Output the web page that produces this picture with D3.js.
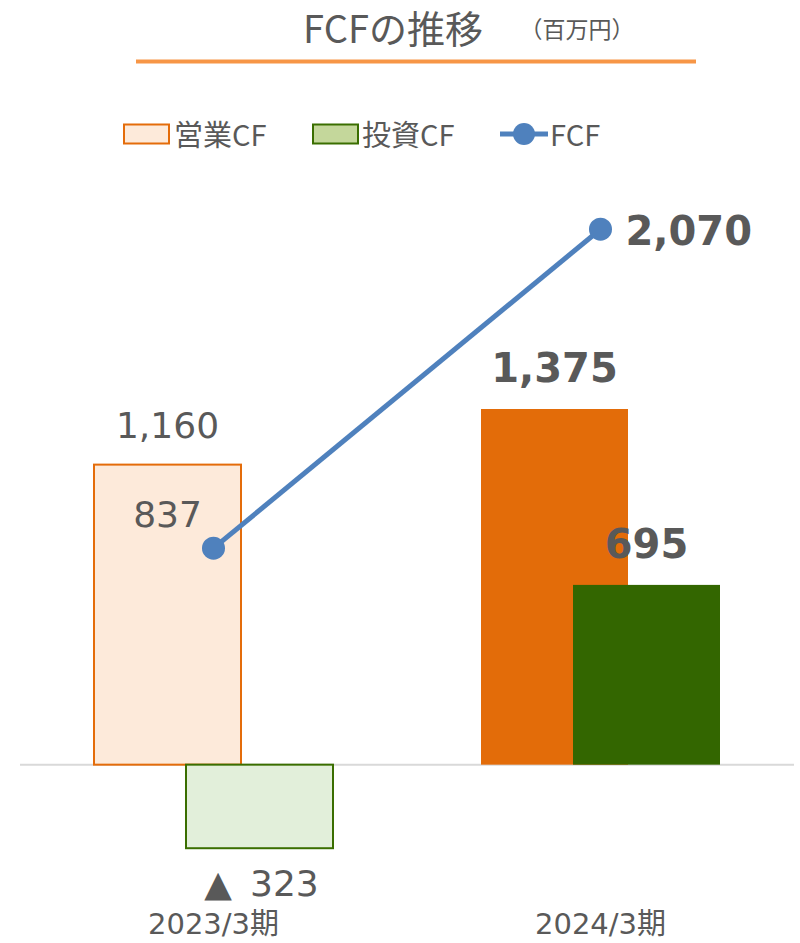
<!DOCTYPE html>
<html>
<head>
<meta charset="utf-8">
<script src="https://cdn.jsdelivr.net/npm/d3@7"></script>
<style>
  body { margin: 0; background: #fff; }
  svg { display: block; font-family: "DejaVu Sans", "Noto Sans CJK JP", sans-serif; }
</style>
</head>
<body>
<div id="chart"></div>
<script>
// data (百万円)
const categories = ["2023/3期", "2024/3期"];
const seriesNames = ["営業CF", "投資CF", "FCF"];
const opCF = [1160, 1375];
const invCF = [-323, 695];
const fcf = [837, 2070];
const boldLabels = [false, true];

const width = 800, height = 943;
const textColor = "#595959";
const jp = "'Noto Sans CJK JP', sans-serif";

const svg = d3.select("#chart").append("svg")
    .attr("width", width)
    .attr("height", height);

// scales
const x = d3.scaleBand().domain(categories).range([20, 794]);
const sub = d3.scalePoint().domain(seriesNames.slice(0, 2)).range([-46, 46]);
const barW = 147;
const y = d3.scaleLinear().domain([-500, 2500]).range([894, 118]);
const cx = c => x(c) + x.bandwidth() / 2;

// title
svg.append("text")
    .attr("x", 393).attr("y", 43)
    .attr("text-anchor", "middle")
    .attr("font-family", jp)
    .attr("font-size", 38)
    .attr("fill", textColor)
    .text("FCFの推移");
svg.append("text")
    .attr("x", 577).attr("y", 38)
    .attr("text-anchor", "middle")
    .attr("font-family", jp)
    .attr("font-size", 23)
    .attr("fill", textColor)
    .text("（百万円）");
svg.append("line")
    .attr("x1", 136).attr("x2", 696)
    .attr("y1", 61.5).attr("y2", 61.5)
    .attr("stroke", "#F79646")
    .attr("stroke-width", 4);

// legend
const legend = svg.append("g").attr("font-family", jp).attr("font-size", 29).attr("fill", textColor);
legend.append("rect").attr("x", 124).attr("y", 124.5).attr("width", 45).attr("height", 19)
    .attr("fill", "#FDEADA").attr("stroke", "#E46C0A").attr("stroke-width", 2);
legend.append("text").attr("x", 174).attr("y", 146).text("営業CF");
legend.append("rect").attr("x", 313).attr("y", 124.5).attr("width", 45).attr("height", 19)
    .attr("fill", "#C4D79B").attr("stroke", "#3A6E00").attr("stroke-width", 2);
legend.append("text").attr("x", 362).attr("y", 146).text("投資CF");
legend.append("line").attr("x1", 500).attr("x2", 548).attr("y1", 134).attr("y2", 134)
    .attr("stroke", "#4F81BD").attr("stroke-width", 5);
legend.append("circle").attr("cx", 524).attr("cy", 134).attr("r", 11).attr("fill", "#4F81BD");
legend.append("text").attr("x", 550).attr("y", 146).text("FCF");

// zero line
svg.append("line")
    .attr("x1", 20).attr("x2", 794)
    .attr("y1", y(0)).attr("y2", y(0))
    .attr("stroke", "#D9D9D9").attr("stroke-width", 2);

// bars
const opFill = ["#FDEADA", "#E36C09"], opStroke = ["#E46C0A", "none"];
const invFill = ["#E2EFDA", "#336600"], invStroke = ["#3A6E00", "none"];

const bars = categories.flatMap((c, i) => [
    { cat: c, key: "営業CF", v: opCF[i], fill: opFill[i], stroke: opStroke[i], i },
    { cat: c, key: "投資CF", v: invCF[i], fill: invFill[i], stroke: invStroke[i], i }
]);

svg.append("g").selectAll("rect")
    .data(bars)
    .join("rect")
    .attr("x", d => cx(d.cat) + sub(d.key) - barW / 2)
    .attr("y", d => y(Math.max(0, d.v)))
    .attr("width", barW)
    .attr("height", d => Math.abs(y(d.v) - y(0)))
    .attr("fill", d => d.fill)
    .attr("stroke", d => d.stroke)
    .attr("stroke-width", 2);

// FCF line
const fcfPts = categories.map((c, i) => ({ cat: c, v: fcf[i], i }));
svg.append("path")
    .datum(fcfPts)
    .attr("fill", "none")
    .attr("stroke", "#4F81BD")
    .attr("stroke-width", 5)
    .attr("d", d3.line().x(d => cx(d.cat)).y(d => y(d.v)));
svg.append("g").selectAll("circle")
    .data(fcfPts)
    .join("circle")
    .attr("cx", d => cx(d.cat))
    .attr("cy", d => y(d.v))
    .attr("r", 11.5)
    .attr("fill", "#4F81BD");

// value labels
const fmt = d3.format(",");
const labelText = v => v < 0 ? "▲\u2002" + fmt(-v) : fmt(v);
const labels = svg.append("g").attr("fill", textColor);

bars.forEach(d => {
    const b = boldLabels[d.i];
    labels.append("text")
        .attr("x", cx(d.cat) + sub(d.key) + (d.v < 0 ? 2 : 0))
        .attr("y", d.v < 0 ? y(d.v) + 48 : y(d.v) - 27)
        .attr("text-anchor", "middle")
        .attr("font-size", b ? 40 : 36)
        .attr("font-weight", b ? "bold" : "normal")
        .text(labelText(d.v));
});

fcfPts.forEach(d => {
    const b = boldLabels[d.i];
    const t = labels.append("text")
        .attr("font-size", b ? 40 : 36)
        .attr("font-weight", b ? "bold" : "normal")
        .text(labelText(d.v));
    if (d.i === 0) {
        t.attr("x", cx(d.cat) - 46).attr("y", y(d.v) - 21).attr("text-anchor", "middle");
    } else {
        t.attr("x", cx(d.cat) + 25).attr("y", y(d.v) + 16).attr("text-anchor", "start");
    }
});

// category axis labels
svg.append("g").selectAll("text")
    .data(categories)
    .join("text")
    .attr("x", d => cx(d))
    .attr("y", 934)
    .attr("text-anchor", "middle")
    .attr("font-size", 29)
    .attr("fill", textColor)
    .text(d => d);
</script>
</body>
</html>
